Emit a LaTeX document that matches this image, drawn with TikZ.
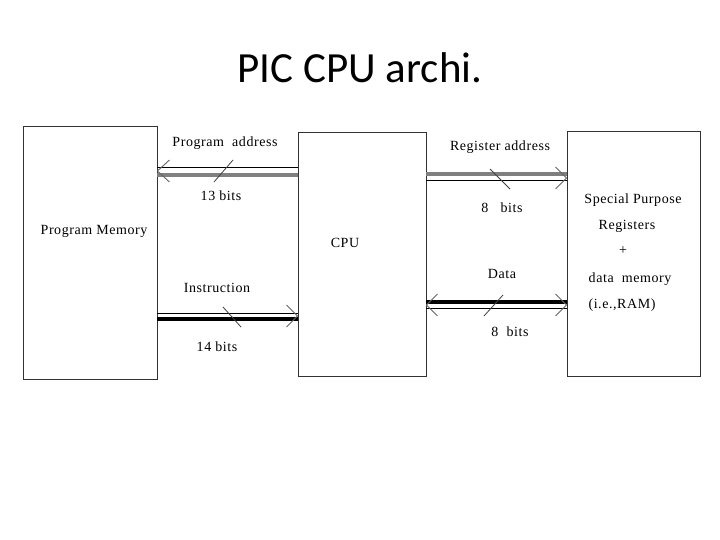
\documentclass[tikz,border=0pt]{standalone}
\usepackage{fontspec}
\setmainfont{Liberation Serif}
\newfontfamily\titlefont{Carlito}
\newfontfamily\lblfont[LetterSpace=4]{Liberation Serif}
\usetikzlibrary{calc}
\begin{document}
\begin{tikzpicture}[x=1pt,y=-1pt,
  blk/.style={draw=black!80,line width=0.9pt,inner sep=0pt},
  lbl/.style={font=\lblfont\fontsize{14}{16}\selectfont,inner sep=0pt},
  thin/.style={line width=1pt,black},
  thickg/.style={line width=3.4pt,black!50},
  thickb/.style={line width=3.4pt,black},
  arm/.style={line width=0.9pt,black!60},
  slash/.style={line width=0.8pt,black!75}]
\useasboundingbox[fill=white] (0,0) rectangle (720,540);
\node[font=\titlefont\fontsize{43}{50}\selectfont,inner sep=0pt] (title) at (360,68) {PIC CPU archi.};
% boxes
\node[blk,minimum width=134pt,minimum height=253pt] (pm) at (90,252.5) {};
\node[blk,minimum width=128pt,minimum height=244pt] (cpu) at (362,254) {};
\node[blk,minimum width=133pt,minimum height=245pt] (ram) at (633.5,253.5) {};
\node[lbl] (pmt) at (94,231) {Program Memory};
\node[lbl] (cput) at (345,243) {CPU};
\node[lbl] (r1) at (633,200) {Special Purpose};
\node[lbl] (r2) at (627,226) {Registers};
\node[lbl] (r3) at (623,251) {+};
\node[lbl] (r4) at (630,279) {data\ \ memory};
\node[lbl] (r5) at (622,305) {(i.e.,RAM)};
% program address (CPU -> PM)
\draw[thin] (cpu.west |- 0,168) -- (pm.east |- 0,168);
\draw[thickg] (cpu.west |- 0,175) -- (pm.east |- 0,175);
\draw[arm] ($(pm.east |- 0,171)+(12,-11)$) -- (pm.east |- 0,171) -- ++(12,11);
\draw[slash] (214,182) -- (233,160);
\node[lbl] (pa) at (225,143) {Program\ \ address};
\node[lbl] (b13) at (221,196) {13 bits};
% instruction (PM -> CPU)
\draw[thin] (pm.east |- 0,313) -- (cpu.west |- 0,313);
\draw[thickb] (pm.east |- 0,319) -- (cpu.west |- 0,319);
\draw[arm] ($(cpu.west |- 0,316)+(-11,-11)$) -- (cpu.west |- 0,316) -- ++(-11,11);
\draw[slash] (223,307) -- (241,327);
\node[lbl] (ins) at (217,288) {Instruction};
\node[lbl] (b14) at (217,347) {14 bits};
% register address (CPU -> RAM)
\draw[thickg] (cpu.east |- 0,174) -- (ram.west |- 0,174);
\draw[thin] (cpu.east |- 0,181) -- (ram.west |- 0,181);
\draw[arm] ($(ram.west |- 0,178)+(-11,-11)$) -- (ram.west |- 0,178) -- ++(-11,11);
\draw[slash] (490,169) -- (510,189);
\node[lbl] (ra) at (500,147) {Register\ address};
\node[lbl] (b8a) at (502,208) {8\ \ \ bits};
% data (CPU <-> RAM)
\draw[thickb] (cpu.east |- 0,302) -- (ram.west |- 0,302);
\draw[thin] (cpu.east |- 0,308) -- (ram.west |- 0,308);
\draw[arm] ($(cpu.east |- 0,305)+(11,-11)$) -- (cpu.east |- 0,305) -- ++(11,11);
\draw[arm] ($(ram.west |- 0,305)+(-11,-11)$) -- (ram.west |- 0,305) -- ++(-11,11);
\draw[slash] (484,316) -- (503,295);
\node[lbl] (dt) at (502,274) {Data};
\node[lbl] (b8b) at (510,332) {8\ \ bits};
\end{tikzpicture}
\end{document}
